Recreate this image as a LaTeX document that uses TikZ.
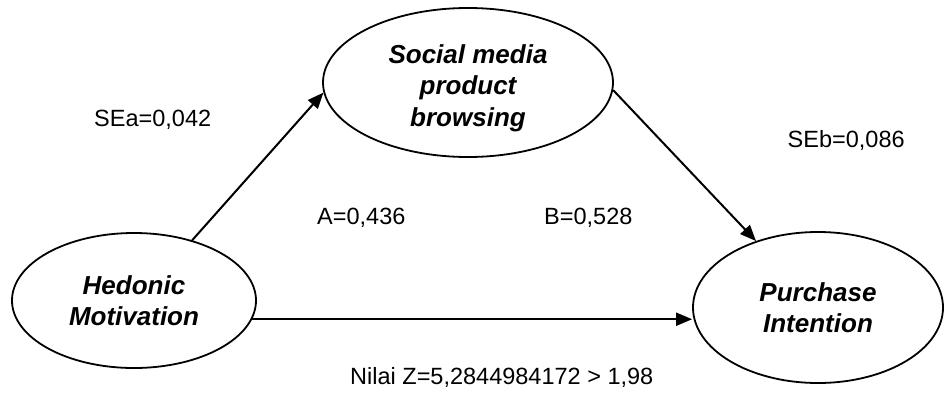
\documentclass[tikz,border=0pt]{standalone}
\usepackage{fontspec}
\setmainfont{Liberation Sans}
\usetikzlibrary{arrows.meta,shapes.geometric}

\tikzset{
  ovalbox/.style={draw, line width=1.8pt, ellipse, inner sep=0pt},
  ovaltext/.style={align=center, font=\fontsize{26}{31.5}\selectfont\bfseries\itshape, inner sep=0pt},
  coeff/.style={font=\fontsize{23.5}{28}\selectfont, inner sep=0pt, anchor=base west},
  pathline/.style={line width=2pt, -{Triangle[length=16pt,width=13pt]}}
}

\begin{document}
\begin{tikzpicture}[x=1pt, y=-1pt]
  \useasboundingbox (0,0) rectangle (945,394);

  % constructs
  \node[ovalbox, minimum width=244pt, minimum height=135pt] (hm) at (134,300.5) {};
  \node[ovalbox, minimum width=290pt, minimum height=149pt] (sm) at (468,82.5) {};
  \node[ovalbox, minimum width=250pt, minimum height=151pt] (pi) at (818,307.5) {};

  \node[ovaltext] (hmtext) at (hm.center) {Hedonic\\Motivation};
  \node[ovaltext] (smtext) at ([yshift=-5.5pt]sm.center) {Social media\\product\\browsing};
  \node[ovaltext] (pitext) at (pi.center) {Purchase\\Intention};

  % paths
  \draw[pathline] (hm.46) -- (sm.184);
  \draw[pathline] (sm.-3.5) -- (pi.133);
  \draw[pathline] (hm.-9) -- (hm.-9 -| pi.west);

  % coefficients
  \node[coeff] (sea) at (94,126) {SEa=0,042};
  \node[coeff] (seb) at (787.5,147.5) {SEb=0,086};
  \node[coeff] (a) at (317,224) {A=0,436};
  \node[coeff] (b) at (544,224) {B=0,528};
  \node[coeff] (z) at (350,384) {Nilai Z=5,2844984172 > 1,98};
\end{tikzpicture}
\end{document}
